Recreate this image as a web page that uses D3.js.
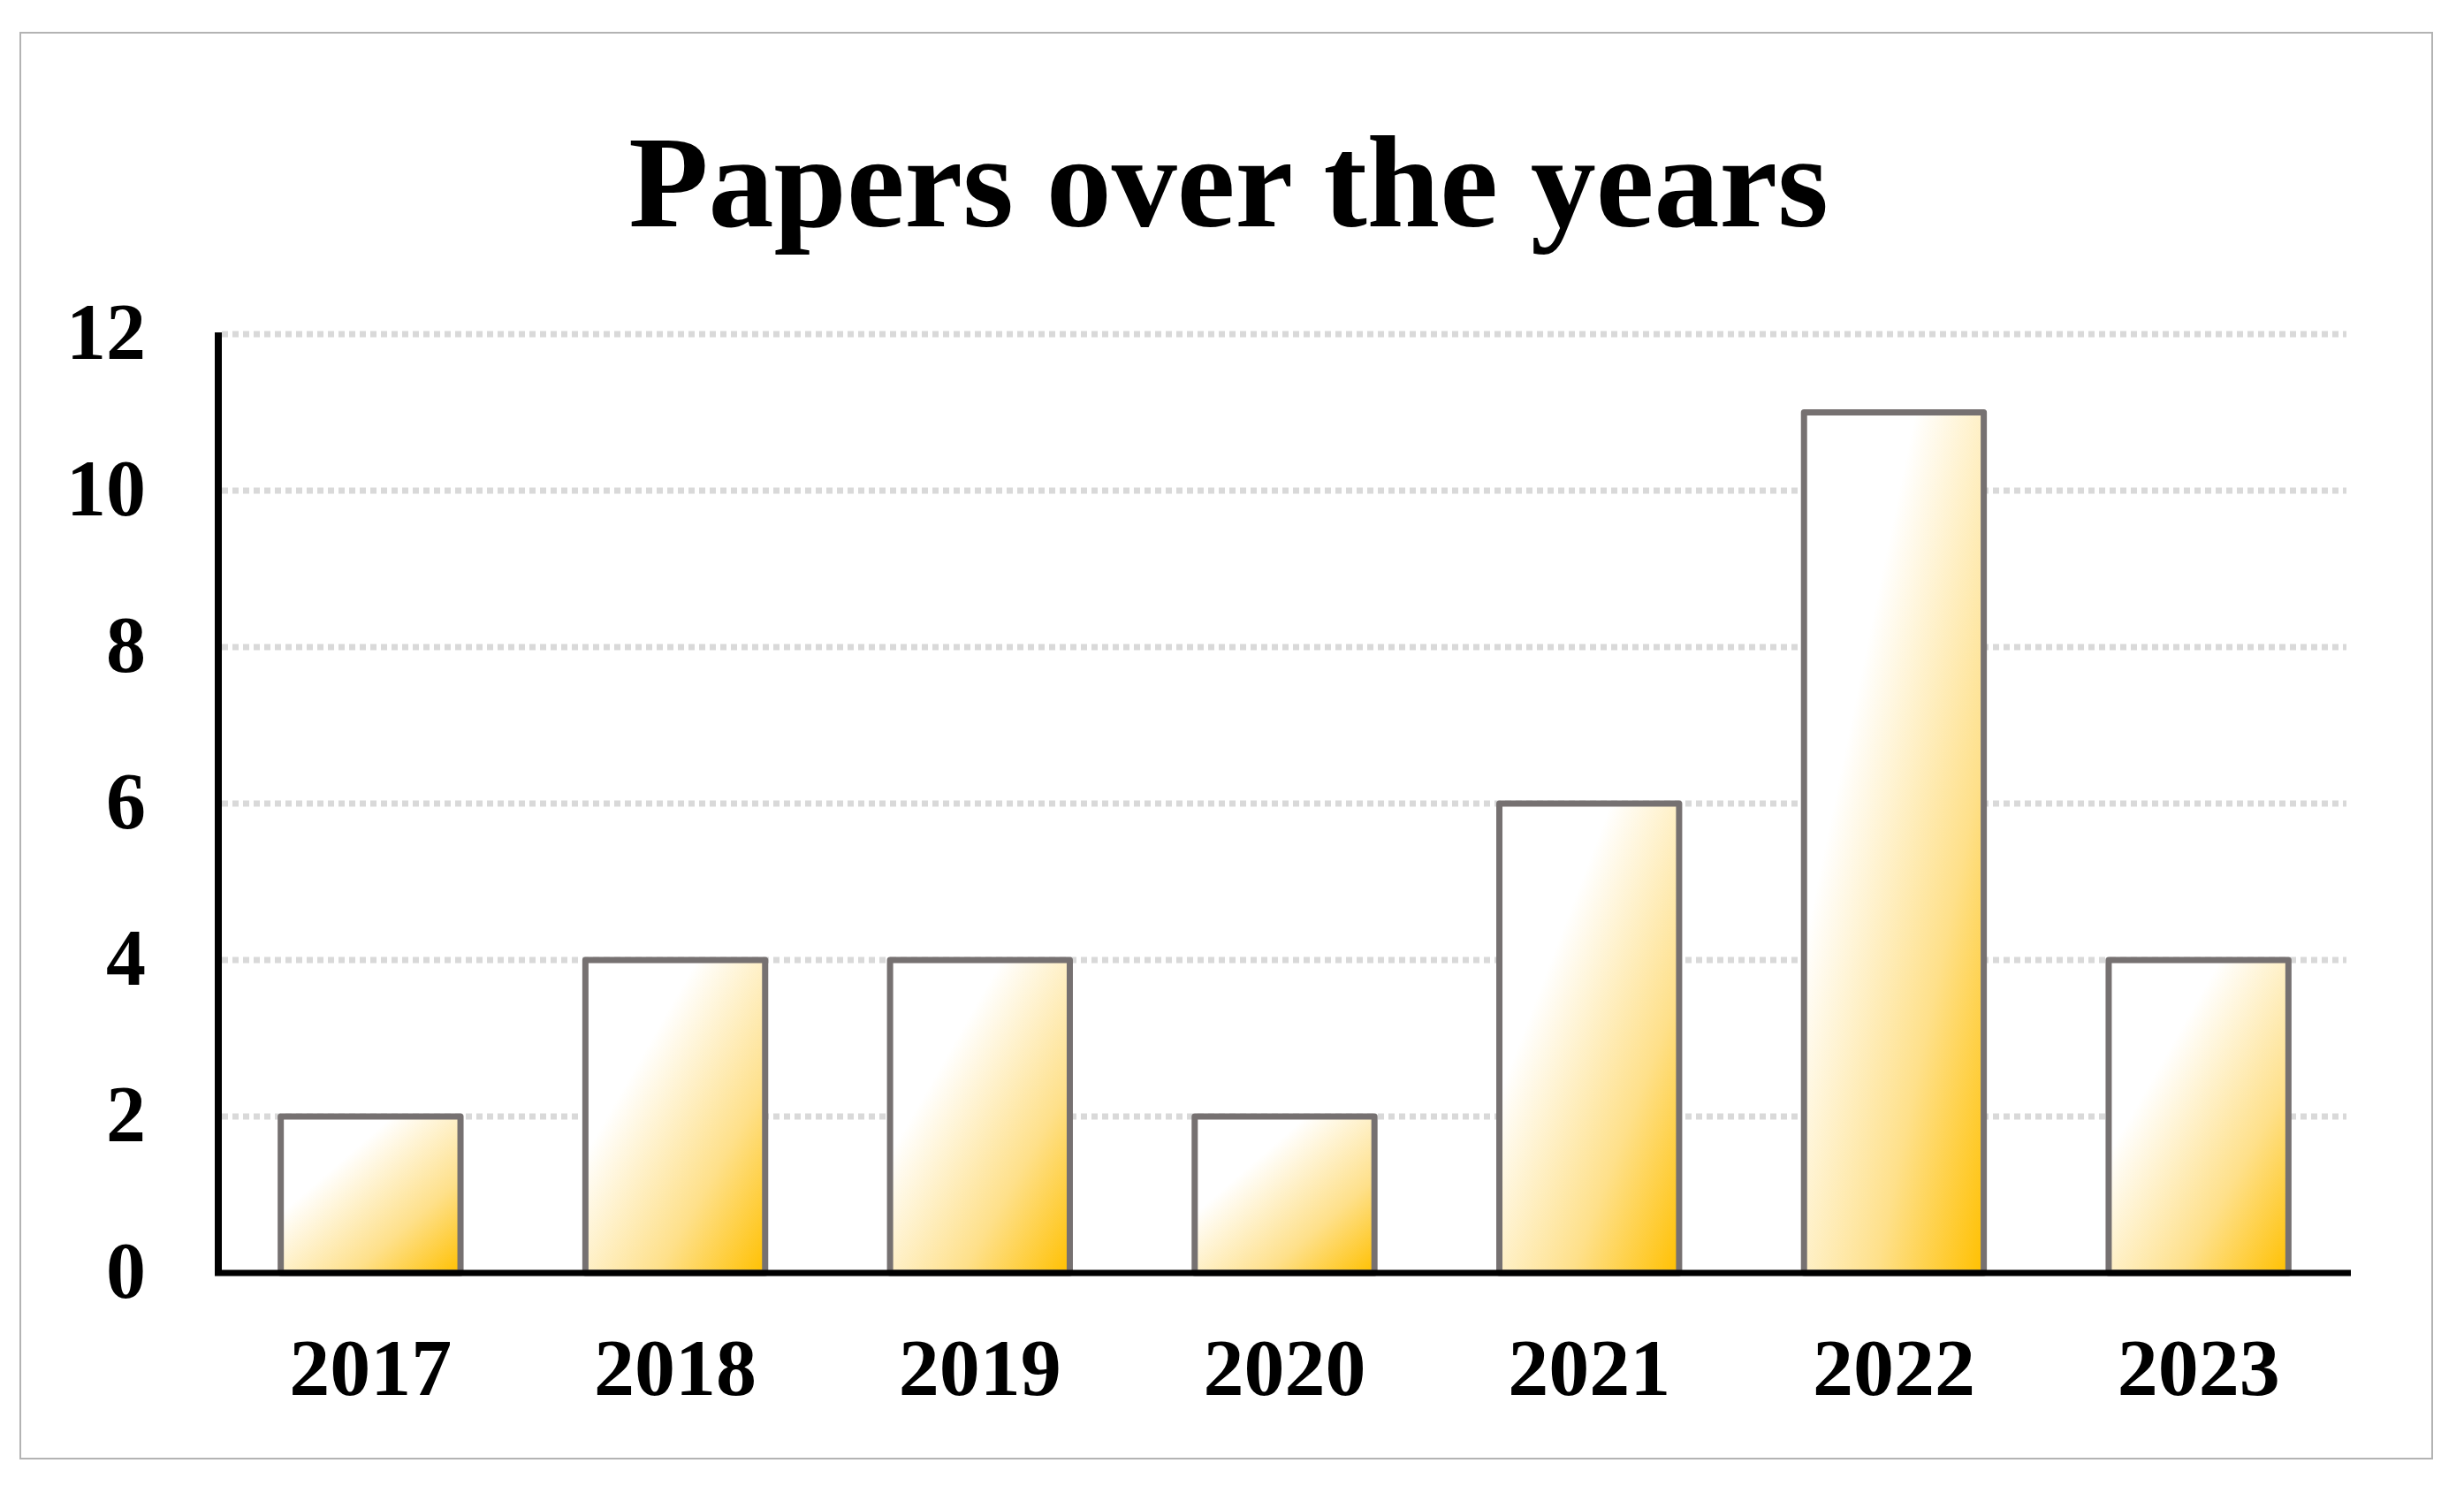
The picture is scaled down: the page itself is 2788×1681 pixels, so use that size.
<!DOCTYPE html>
<html>
<head>
<meta charset="utf-8">
<script src="https://cdn.jsdelivr.net/npm/d3@7"></script>
<style>
  body { margin: 0; background: #fff; }
  text { font-family: "Liberation Serif", "Times New Roman", serif; font-weight: bold; fill: #000; }
</style>
</head>
<body>
<script>
// chart data
var years = ["2017", "2018", "2019", "2020", "2021", "2022", "2023"];
var papers = [2, 4, 4, 2, 6, 11, 4];
var yTicks = [0, 2, 4, 6, 8, 10, 12];
var title = "Papers over the years";

var W = 2788, H = 1681;
var plot = {left: 247, right: 2660, top: 378, bottom: 1440};

var svg = d3.select("body").append("svg")
    .attr("width", W)
    .attr("height", H);

// outer chart border
svg.append("rect")
    .attr("x", 23).attr("y", 37)
    .attr("width", 2752 - 23).attr("height", 1650 - 37)
    .attr("fill", "#fff")
    .attr("stroke", "#b3b3b3")
    .attr("stroke-width", 2);

// gradient fill for bars (white top-left to gold bottom-right)
var grad = svg.append("defs").append("linearGradient")
    .attr("id", "barFill")
    .attr("x1", 0).attr("y1", 0).attr("x2", 1).attr("y2", 1);
grad.append("stop").attr("offset", 0).attr("stop-color", "#ffffff");
grad.append("stop").attr("offset", 0.31).attr("stop-color", "#ffffff");
grad.append("stop").attr("offset", 0.7).attr("stop-color", "#fee08a");
grad.append("stop").attr("offset", 1).attr("stop-color", "#ffc000");

// scales
var x = d3.scaleBand()
    .domain(years)
    .range([plot.left, plot.right])
    .paddingInner(0.41)
    .paddingOuter(0.205);

var y = d3.scaleLinear()
    .domain([0, 12])
    .range([plot.bottom, plot.top]);

// gridlines
svg.append("g")
  .selectAll("line")
  .data(yTicks.filter(function(d) { return d > 0; }))
  .enter().append("line")
    .attr("x1", plot.left + 4)
    .attr("x2", plot.right - 5)
    .attr("y1", function(d) { return y(d); })
    .attr("y2", function(d) { return y(d); })
    .attr("stroke", "#d9d9d9")
    .attr("stroke-width", 7)
    .attr("stroke-dasharray", "7 5");

// bars
svg.append("g")
  .selectAll("rect")
  .data(papers)
  .enter().append("rect")
    .attr("x", function(d, i) { return x(years[i]); })
    .attr("y", function(d) { return y(d); })
    .attr("width", x.bandwidth())
    .attr("height", function(d) { return y(0) - y(d); })
    .attr("fill", "url(#barFill)")
    .attr("stroke", "#767171")
    .attr("stroke-width", 7)
    .attr("stroke-linejoin", "round");

// x axis
var xAxis = svg.append("g")
    .attr("transform", "translate(0," + plot.bottom + ")")
    .call(d3.axisBottom(x).tickSize(0));
xAxis.select(".domain")
    .attr("stroke", "#000")
    .attr("stroke-width", 7)
    .attr("d", "M" + (plot.left - 4) + ",0H" + plot.right);
xAxis.selectAll("text")
    .attr("font-size", 92)
    .attr("dy", 0)
    .attr("y", 138);

// y axis
var yAxis = svg.append("g")
    .attr("transform", "translate(" + plot.left + ",0)")
    .call(d3.axisLeft(y).tickValues(yTicks).tickSize(0).tickPadding(82));
yAxis.select(".domain")
    .attr("stroke", "#000")
    .attr("stroke-width", 8)
    .attr("d", "M0," + (plot.bottom + 3) + "V" + (plot.top - 2));
yAxis.selectAll("text")
    .attr("font-size", 90)
    .attr("dy", "0.31em");
svg.selectAll(".tick text").attr("font-family", null).attr("fill", "#000");

// title
svg.append("text")
    .attr("x", 1390)
    .attr("y", 256)
    .attr("text-anchor", "middle")
    .attr("font-size", 148)
    .text(title);
</script>
</body>
</html>
